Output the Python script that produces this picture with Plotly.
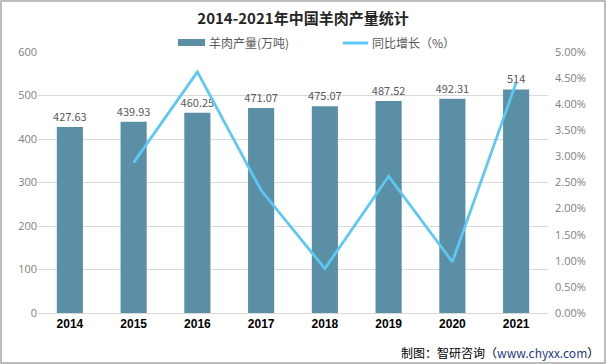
import plotly.graph_objects as go

years = ["2014", "2015", "2016", "2017", "2018", "2019", "2020", "2021"]
production = [427.63, 439.93, 460.25, 471.07, 475.07, 487.52, 492.31, 514]
prod_labels = ["427.63", "439.93", "460.25", "471.07", "475.07", "487.52", "492.31", "514"]
growth_years = ["2015", "2016", "2017", "2018", "2019", "2020", "2021"]
growth = [2.88, 4.62, 2.35, 0.85, 2.62, 0.98, 4.41]
left_ticks = [0, 100, 200, 300, 400, 500, 600]
right_ticks = [0, 0.5, 1, 1.5, 2, 2.5, 3, 3.5, 4, 4.5, 5]
right_tick_labels = ["0.00%", "0.50%", "1.00%", "1.50%", "2.00%", "2.50%",
                     "3.00%", "3.50%", "4.00%", "4.50%", "5.00%"]

FONT = "Noto Sans CJK SC, Open Sans, sans-serif"
BAR_COLOR = "#5B8FA5"
LINE_COLOR = "#5BC8F5"

# plot area in pixels
L, R, T, B = 38, 548, 52, 313
W, H = R - L, B - T


def px(x):
    return (x - L) / W


def py(y):
    return (B - y) / H


fig = go.Figure()
fig.add_trace(go.Bar(
    x=years, y=production, name="羊肉产量(万吨)",
    marker=dict(color=BAR_COLOR, line=dict(width=0)),
    width=0.41,
    text=prod_labels, textposition="outside", constraintext="none",
    textfont=dict(size=11, color="#595959", family=FONT),
    cliponaxis=False,
))
fig.add_trace(go.Scatter(
    x=growth_years, y=growth, name="同比增长（%）", yaxis="y2",
    mode="lines", line=dict(color=LINE_COLOR, width=2.75),
))

fig.update_layout(
    width=606, height=364,
    margin=dict(l=L, r=606 - R, t=T, b=364 - B, autoexpand=False),
    paper_bgcolor="white", plot_bgcolor="white",
    font=dict(family=FONT, size=11, color="#595959"),
    title=dict(text="<b>2014-2021年中国羊肉产量统计</b>", x=0.5, xanchor="center",
               y=0.948, yanchor="middle", font=dict(size=15, color="#262626", family=FONT)),
    showlegend=False,
    xaxis=dict(type="category", showgrid=False, showline=True, linecolor="#D9D9D9",
               linewidth=1, ticks="", tickfont=dict(size=12, color="#000000", family="Liberation Sans"),
               tickprefix="<b>", ticksuffix="</b>"),
    yaxis=dict(range=[0, 600], tickvals=left_ticks, showgrid=True, gridcolor="#D9D9D9",
               zeroline=False, showline=False, ticks="",
               tickfont=dict(size=11, color="#7F7F7F", family="Open Sans")),
    yaxis2=dict(range=[0, 5], tickvals=right_ticks, ticktext=right_tick_labels,
                overlaying="y", side="right",
                showgrid=False, zeroline=False, showline=False, ticks="", ticklabelstandoff=6,
                tickfont=dict(size=11, color="#7F7F7F", family="Open Sans")),
)

# outer frame
fig.add_shape(type="rect", xref="paper", yref="paper",
              x0=px(1), x1=px(605), y0=py(363), y1=py(1),
              line=dict(color="#A6A6A6", width=1.5), fillcolor="rgba(0,0,0,0)")

# custom legend
fig.add_shape(type="rect", xref="paper", yref="paper",
              x0=px(178), x1=px(205), y0=py(46), y1=py(39),
              fillcolor=BAR_COLOR, line=dict(width=0))
fig.add_annotation(xref="paper", yref="paper", x=px(207), y=py(43),
                   xanchor="left", yanchor="middle", showarrow=False,
                   text="羊肉产量(万吨)", font=dict(size=12, color="#595959", family=FONT))
fig.add_shape(type="line", xref="paper", yref="paper",
              x0=px(343), x1=px(368), y0=py(43), y1=py(43),
              line=dict(color=LINE_COLOR, width=3))
fig.add_annotation(xref="paper", yref="paper", x=px(370), y=py(43),
                   xanchor="left", yanchor="middle", showarrow=False,
                   text="同比增长（%）", font=dict(size=12, color="#595959", family=FONT))

fig.add_annotation(xref="paper", yref="paper",
                   x=px(601), y=py(352), xanchor="right", yanchor="middle",
                   text="制图：智研咨询（<span style='color:#1F3C88'>www.chyxx.com</span>）",
                   showarrow=False, font=dict(size=12, color="#000000", family=FONT))

fig.write_html("out.html", config={"displayModeBar": False},
               post_script="document.body.style.margin='0';document.body.style.overflow='hidden';")
